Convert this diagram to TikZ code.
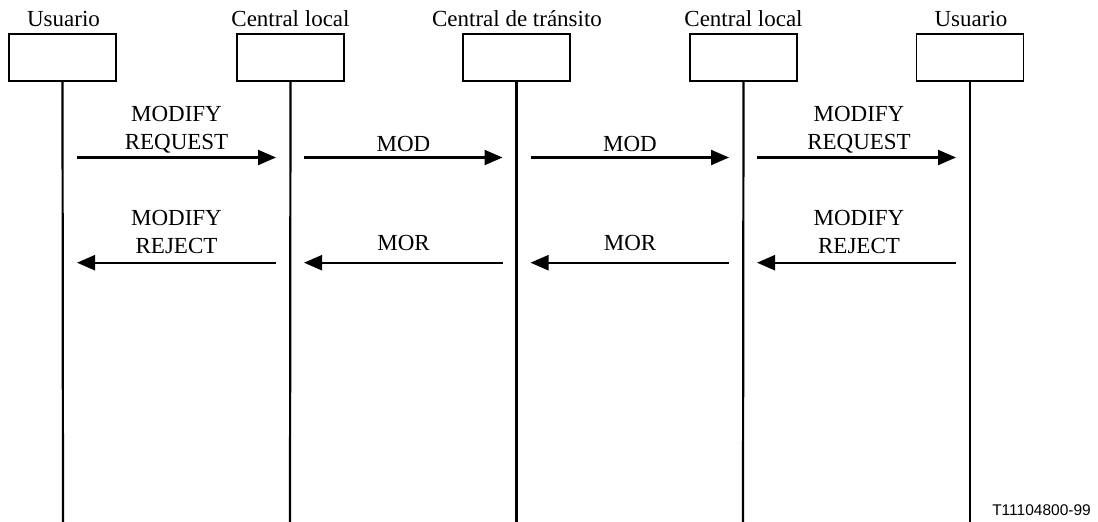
\documentclass[tikz,border=0pt]{standalone}
\usepackage{fontspec}
\setmainfont{Liberation Serif}
\newfontfamily\figsans{Liberation Sans}
\usetikzlibrary{arrows.meta}
\begin{document}
\begin{tikzpicture}[x=1pt,y=-1pt,
  entity/.style={draw, line width=1.2pt, minimum width=107pt, minimum height=47pt, inner sep=0pt},
  title/.style={font=\fontsize{23}{28}\selectfont, anchor=base, inner sep=0pt},
  lifeline/.style={line width=2.2pt},
  msg/.style={line width=2.2pt, shorten <=14pt, shorten >=14pt, -{Triangle[length=18pt,width=15pt]}},
  lbl/.style={font=\fontsize{23}{27.5}\selectfont, align=center, anchor=base, inner sep=0pt}]
\useasboundingbox (0,0) rectangle (1098,522);

% entity boxes with their titles
\node[entity] (b1) at (62.5,57.5) {};
\node[entity] (b2) at (290.5,57.5) {};
\node[entity] (b3) at (516.5,57.5) {};
\node[entity] (b4) at (743.5,57.5) {};
\node[entity] (b5) at (970,57.5) {};
\node[title] (t1) at (63.5,26) {Usuario};
\node[title] (t2) at (290.5,26) {Central local};
\node[title] (t3) at (517,26) {Central de tránsito};
\node[title] (t4) at (743.5,26) {Central local};
\node[title] (t5) at (971,26) {Usuario};

% lifelines down to the bottom edge
\foreach \i/\x in {1/63,2/290,3/516.5,4/743,5/970}{
  \coordinate (e\i) at (\x,522);
  \coordinate (r\i) at (\x,157.5);
  \coordinate (j\i) at (\x,262.7);
  \draw[lifeline] (b\i.south) -- (e\i);
}

% request direction
\draw[msg] (r1) -- (r2);
\draw[msg] (r2) -- (r3);
\draw[msg] (r3) -- (r4);
\draw[msg] (r4) -- (r5);
% reject direction
\draw[msg] (j2) -- (j1);
\draw[msg] (j3) -- (j2);
\draw[msg] (j4) -- (j3);
\draw[msg] (j5) -- (j4);

% message labels (base anchor sits on the last line)
\node[lbl] (m1) at (176.5,149) {MODIFY\\REQUEST};
\node[lbl] (m2) at (403.5,151.7) {MOD};
\node[lbl] (m3) at (630,151.7) {MOD};
\node[lbl] (m4) at (859,149) {MODIFY\\REQUEST};
\node[lbl] (n1) at (176.5,253.3) {MODIFY\\REJECT};
\node[lbl] (n2) at (403.5,250.7) {MOR};
\node[lbl] (n3) at (630,250.7) {MOR};
\node[lbl] (n4) at (859,253.3) {MODIFY\\REJECT};

% figure reference
\node[font=\figsans\fontsize{15.5}{18}\selectfont, anchor=base east, inner sep=0pt] (ref) at (1091,515) {T11104800-99};
\end{tikzpicture}
\end{document}
